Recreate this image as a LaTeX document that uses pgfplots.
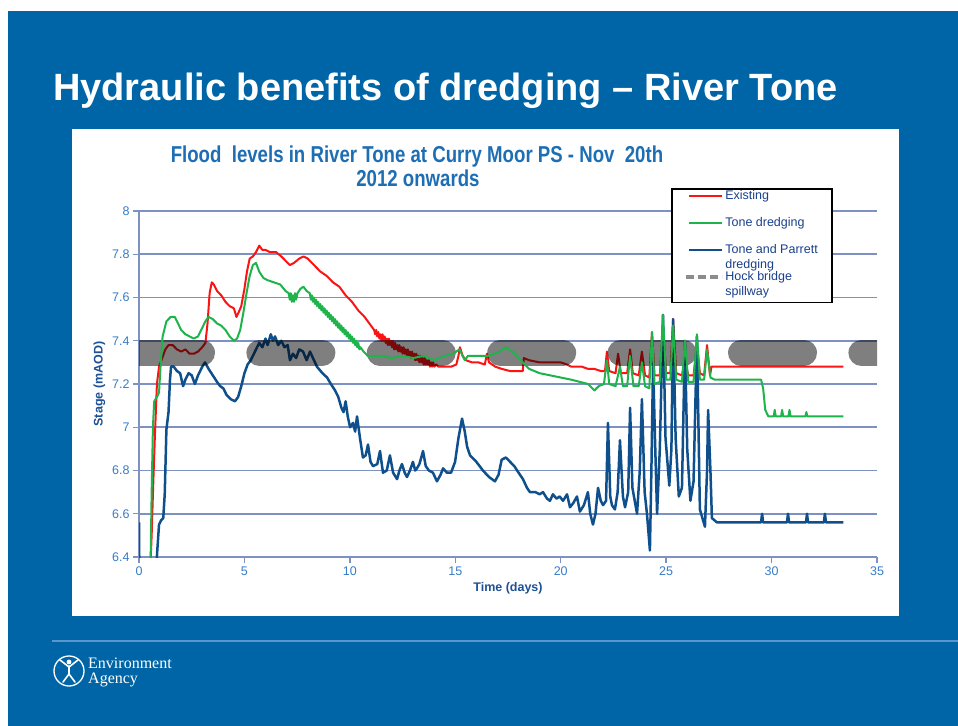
\documentclass[border=0pt]{standalone}
\usepackage{pgfplots}
\pgfplotsset{compat=1.18}
\usepackage{fontspec}
\setmainfont{Liberation Sans}
\newfontfamily\seriffont{Liberation Serif}
\usepackage{graphicx}
\definecolor{slideblue}{RGB}{0,101,166}
\definecolor{sepline}{RGB}{90,150,205}
\definecolor{titleblue}{RGB}{30,110,180}
\definecolor{tickblue}{RGB}{55,125,200}
\definecolor{labblue}{RGB}{30,80,150}
\definecolor{legblue}{RGB}{25,65,140}
\definecolor{gridc}{RGB}{125,145,195}
\definecolor{redc}{RGB}{250,20,20}
\definecolor{greenc}{RGB}{30,180,75}
\definecolor{bluec}{RGB}{15,80,140}
\begin{document}
\begin{tikzpicture}
\useasboundingbox (0bp,0bp) rectangle (958bp,-726bp);
\begin{scope}[x=1bp,y=-1bp]
\fill[white] (0,0) rectangle (958,726);
\fill[slideblue] (8,11) rectangle (958,726);
\fill[white] (72,129) rectangle (899,616);
\draw[sepline, line width=1.5bp] (52,641) -- (958,641);
\node[anchor=base west, inner sep=0pt, text=white, font=\fontsize{38bp}{45bp}\selectfont\bfseries] at (53,100) {Hydraulic benefits of dredging – River Tone};
\node[anchor=base, inner sep=0pt, text=titleblue, font=\fontsize{23bp}{27bp}\selectfont\bfseries] at (417,162) {\scalebox{0.81}[1]{Flood\ \ levels in River Tone at Curry Moor PS - Nov\ \ 20th}};
\node[anchor=base, inner sep=0pt, text=titleblue, font=\fontsize{23bp}{27bp}\selectfont\bfseries] at (418,186) {\scalebox{0.81}[1]{2012 onwards}};
% logo
\draw[white, line width=1.3bp] (69,671) circle[radius=15bp];
\fill[white] (69,662) circle[radius=2.4bp];
\draw[white, line width=1.6bp, line cap=round] (60,660) -- (69,667) -- (78,660);
\draw[white, line width=1.8bp, line cap=round] (69,666) -- (69,674);
\draw[white, line width=1.6bp, line cap=round] (63,682) -- (69,674) -- (75,682);
\node[anchor=base west, inner sep=0pt, text=white, font=\seriffont\fontsize{16bp}{17bp}\selectfont] at (88,668) {Environment};
\node[anchor=base west, inner sep=0pt, text=white, font=\seriffont\fontsize{16bp}{17bp}\selectfont] at (88,683) {Agency};
\end{scope}
\begin{axis}[
  at={(139bp,-557bp)}, anchor=south west,
  scale only axis, width=738bp, height=346bp,
  xmin=0, xmax=35, ymin=6.4, ymax=8,
  axis x line*=bottom, axis y line*=left,
  axis line style={gridc, line width=1.6bp, -},
  xtick={0,5,10,15,20,25,30,35},
  ytick={6.4,6.6,6.8,7,7.2,7.4,7.6,7.8,8},
  ymajorgrids, grid style={gridc, line width=1.6bp},
  tick align=outside, major tick length=6bp,
  tick style={gridc, line width=1.4bp},
  /pgf/number format/assume math mode=true,
  tick label style={font=\fontsize{12.5bp}{15bp}\selectfont, text=tickblue},
  xlabel={Time (days)}, ylabel={Stage (mAOD)},
  label style={font=\fontsize{12.5bp}{15bp}\selectfont\bfseries, text=labblue},
  legend style={at={(0.721,1.066)}, anchor=north west, draw=black, line width=1.5bp, fill=white,
    font=\fontsize{12.5bp}{15bp}\selectfont, text=legblue, inner xsep=12bp, inner ysep=1bp,
    row sep=14.5bp, nodes={inner xsep=2bp, inner ysep=1bp}},
  legend cell align=left,
  legend image code/.code={\draw[#1] (0bp,0bp) -- (33bp,0bp);},
]
\addlegendimage{redc, line width=2bp}
\addlegendentry{\raisebox{0pt}[9bp][3bp]{Existing}}
\addlegendimage{greenc, line width=2bp}
\addlegendentry{\raisebox{0pt}[9bp][3bp]{Tone dredging}}
\addlegendimage{bluec, line width=2bp}
\addlegendentry{\raisebox{0pt}[9bp][3bp]{\begin{tabular}[t]{@{}l@{}}Tone and Parrett\\dredging\end{tabular}}}
\addlegendimage{legend image code/.code={\draw[black!45, line width=3.5bp, dash pattern=on 8bp off 4bp] (-3bp,0bp) -- (33bp,0bp);}}
\addlegendentry{\raisebox{0pt}[9bp][3bp]{\begin{tabular}[t]{@{}l@{}}Hock bridge\\spillway\end{tabular}}}
\addlegendimage{empty legend}
\addlegendentry{}

% Existing
\addplot[redc, line width=2bp, line join=round, forget plot] coordinates {
(0.55,6.38) (0.60,6.50) (0.68,6.75) (0.75,6.95) (0.85,7.20) (0.95,7.28) (1.10,7.32) (1.25,7.36)
(1.40,7.38) (1.60,7.38) (1.80,7.36) (2.00,7.35) (2.20,7.36) (2.40,7.34) (2.60,7.34) (2.80,7.35)
(3.00,7.37) (3.15,7.39) (3.25,7.48) (3.35,7.62) (3.45,7.67) (3.55,7.66) (3.70,7.63) (3.90,7.61)
(4.10,7.58) (4.30,7.56) (4.50,7.55) (4.62,7.51) (4.72,7.53) (4.85,7.56) (5.00,7.64) (5.12,7.72)
(5.25,7.78) (5.40,7.79) (5.55,7.81) (5.70,7.84) (5.85,7.82) (6.00,7.82) (6.20,7.81) (6.50,7.81)
(6.75,7.79) (6.95,7.77) (7.15,7.75) (7.35,7.76) (7.60,7.78) (7.80,7.79) (8.00,7.78) (8.30,7.75)
(8.60,7.72) (8.90,7.70) (9.20,7.67) (9.50,7.65) (9.80,7.61) (10.10,7.58) (10.40,7.54) (10.70,7.51)
(11.00,7.47) (11.15,7.45) (11.20,7.43) (11.25,7.45) (11.30,7.42) (11.35,7.44) (11.40,7.41) (11.45,7.43)
(11.50,7.40) (11.55,7.43) (11.60,7.40) (11.65,7.42) (11.70,7.39) (11.75,7.41) (11.80,7.38) (11.85,7.41)
(11.90,7.38) (11.95,7.40) (12.00,7.37) (12.05,7.40) (12.10,7.36) (12.15,7.39) (12.20,7.36) (12.25,7.38)
(12.30,7.35) (12.35,7.38) (12.40,7.35) (12.45,7.37) (12.50,7.34) (12.55,7.37) (12.60,7.34) (12.65,7.36)
(12.70,7.33) (12.75,7.36) (12.80,7.33) (12.85,7.35) (12.90,7.32) (12.95,7.35) (13.00,7.32) (13.05,7.34)
(13.10,7.31) (13.15,7.34) (13.20,7.31) (13.25,7.33) (13.30,7.30) (13.35,7.33) (13.40,7.30) (13.45,7.32)
(13.50,7.29) (13.55,7.32) (13.60,7.29) (13.65,7.31) (13.70,7.29) (13.75,7.31) (13.80,7.28) (13.85,7.30)
(13.90,7.28) (13.95,7.30) (14.00,7.28) (14.10,7.29) (14.20,7.28)
(14.35,7.28) (14.50,7.28) (14.80,7.28) (15.05,7.29) (15.15,7.33) (15.22,7.37) (15.35,7.33) (15.50,7.31)
(15.80,7.30) (16.10,7.30) (16.40,7.29) (16.50,7.34) (16.60,7.30) (16.90,7.28) (17.20,7.27) (17.60,7.26)
(18.00,7.26) (18.20,7.26) (18.25,7.32) (18.50,7.31) (19.00,7.30) (19.50,7.30) (20.00,7.30) (20.30,7.29)
(20.50,7.28) (21.00,7.28) (21.30,7.27) (21.60,7.27) (21.90,7.26) (22.10,7.26) (22.19,7.35) (22.30,7.26)
(22.60,7.25) (22.72,7.34) (22.85,7.25) (23.15,7.25) (23.29,7.36) (23.42,7.25) (23.70,7.24) (23.85,7.35)
(24.00,7.24) (24.20,7.23) (24.33,7.44) (24.45,7.24) (24.70,7.24) (24.85,7.47) (25.00,7.25) (25.20,7.25)
(25.33,7.50) (25.48,7.25) (25.75,7.24) (25.89,7.31) (26.05,7.24) (26.30,7.24) (26.46,7.38) (26.60,7.25)
(26.80,7.24) (26.94,7.38) (27.08,7.24) (27.15,7.28) (27.50,7.28) (30.00,7.28) (33.40,7.28)
};
% Tone and Parrett dredging
\addplot[bluec, line width=2.5bp, line join=round, forget plot] coordinates {
(0.00,6.56) (0.02,6.30) (0.80,6.30) (0.86,6.42) (0.95,6.55) (1.05,6.57) (1.15,6.58) (1.22,6.69)
(1.30,6.99) (1.40,7.07) (1.47,7.22) (1.52,7.28) (1.65,7.28) (1.80,7.26) (1.95,7.25) (2.09,7.19)
(2.20,7.22) (2.35,7.25) (2.50,7.24) (2.65,7.20) (2.80,7.24) (3.00,7.28) (3.13,7.30) (3.30,7.27)
(3.50,7.24) (3.70,7.21) (3.85,7.19) (4.00,7.18) (4.15,7.15) (4.35,7.13) (4.55,7.12) (4.70,7.14)
(4.85,7.19) (5.00,7.25) (5.15,7.29) (5.30,7.31) (5.50,7.35) (5.70,7.39) (5.85,7.37) (6.00,7.41)
(6.10,7.38) (6.25,7.43) (6.35,7.40) (6.45,7.42) (6.60,7.38) (6.75,7.40) (6.90,7.37) (7.05,7.38)
(7.16,7.31) (7.30,7.34) (7.45,7.32) (7.60,7.36) (7.78,7.35) (7.95,7.31) (8.11,7.35) (8.25,7.32)
(8.44,7.28) (8.70,7.25) (8.92,7.23) (9.10,7.20) (9.30,7.17) (9.45,7.14) (9.60,7.09) (9.70,7.07)
(9.80,7.12) (9.90,7.05) (10.01,7.00) (10.15,7.02) (10.25,6.98) (10.34,7.05) (10.48,6.95) (10.62,6.86)
(10.75,6.87) (10.86,6.92) (10.98,6.84) (11.10,6.82) (11.30,6.83) (11.43,6.89) (11.57,6.79) (11.75,6.80)
(11.90,6.87) (12.05,6.79) (12.24,6.76) (12.35,6.80) (12.47,6.83) (12.60,6.79) (12.71,6.77) (12.85,6.80)
(12.99,6.84) (13.10,6.80) (13.18,6.81) (13.30,6.83) (13.47,6.89) (13.60,6.82) (13.75,6.80) (13.94,6.79)
(14.13,6.75) (14.30,6.78) (14.42,6.81) (14.60,6.79) (14.80,6.79) (14.99,6.84) (15.15,6.95) (15.32,7.04)
(15.45,6.98) (15.56,6.91) (15.70,6.87) (16.00,6.84) (16.31,6.80) (16.60,6.77) (16.88,6.75) (17.05,6.78)
(17.20,6.85) (17.40,6.86) (17.60,6.84) (17.80,6.82) (18.00,6.79) (18.21,6.76) (18.40,6.72) (18.54,6.70)
(18.80,6.70) (19.00,6.69) (19.16,6.70) (19.35,6.67) (19.49,6.66) (19.63,6.69) (19.80,6.67) (19.95,6.68)
(20.11,6.66) (20.30,6.69) (20.44,6.63) (20.60,6.65) (20.77,6.68) (20.91,6.61) (21.10,6.64) (21.29,6.70)
(21.40,6.60) (21.53,6.55) (21.65,6.60) (21.77,6.72) (21.90,6.66) (22.01,6.64) (22.15,6.66) (22.24,7.02)
(22.35,6.68) (22.43,6.64) (22.57,6.62) (22.70,6.70) (22.81,6.94) (22.95,6.68) (23.05,6.63) (23.20,6.70)
(23.29,7.09) (23.40,6.72) (23.62,6.60) (23.75,6.80) (23.85,7.13) (23.98,6.70) (24.09,6.60) (24.23,6.43)
(24.30,6.80) (24.38,7.30) (24.47,6.95) (24.57,6.60) (24.70,6.90) (24.85,7.52) (24.97,6.95) (25.15,6.73)
(25.25,6.90) (25.33,7.50) (25.45,6.95) (25.60,6.68) (25.75,6.72) (25.89,7.40) (26.00,6.90) (26.15,6.66)
(26.30,6.75) (26.46,7.42) (26.60,6.62) (26.84,6.54) (26.94,6.80) (26.99,7.08) (27.10,6.80) (27.17,6.58)
(27.41,6.56) (28.00,6.56) (29.50,6.56) (29.55,6.60) (29.60,6.56) (30.73,6.56) (30.78,6.60) (30.83,6.56)
(31.63,6.56) (31.68,6.60) (31.73,6.56) (32.48,6.56) (32.53,6.60) (32.58,6.56) (33.40,6.56)
};
% Hock bridge spillway
\addplot[black, opacity=0.5, line width=26bp, line cap=round, dash pattern=on 63bp off 57.4bp, forget plot] coordinates {(0,7.345) (35,7.345)};
% Tone dredging
\addplot[greenc, line width=2bp, line join=round, forget plot] coordinates {
(0.55,6.38) (0.60,6.70) (0.66,7.00) (0.72,7.12) (0.85,7.14) (0.95,7.16) (1.02,7.28) (1.12,7.42)
(1.30,7.49) (1.50,7.51) (1.70,7.51) (1.85,7.48) (2.00,7.45) (2.20,7.43) (2.40,7.42) (2.60,7.41)
(2.80,7.42) (3.00,7.46) (3.15,7.49) (3.30,7.51) (3.50,7.50) (3.70,7.48) (3.90,7.47) (4.10,7.45)
(4.30,7.42) (4.50,7.40) (4.65,7.41) (4.80,7.45) (4.95,7.53) (5.10,7.62) (5.25,7.70) (5.40,7.75)
(5.55,7.76) (5.70,7.72) (5.90,7.69) (6.10,7.68) (6.40,7.67) (6.70,7.66) (6.95,7.63) (7.10,7.62)
(7.15,7.59) (7.20,7.62) (7.25,7.58) (7.30,7.61) (7.35,7.58) (7.40,7.62) (7.45,7.59) (7.52,7.62)
(7.65,7.64) (7.80,7.65) (7.95,7.63) (8.10,7.62)
(8.15,7.59) (8.20,7.61) (8.25,7.58) (8.30,7.60) (8.35,7.57) (8.40,7.59) (8.45,7.56) (8.50,7.58)
(8.55,7.55) (8.60,7.57) (8.65,7.54) (8.70,7.56) (8.75,7.53) (8.80,7.55) (8.85,7.52) (8.90,7.54)
(8.95,7.51) (9.00,7.53) (9.05,7.50) (9.10,7.52) (9.15,7.49) (9.20,7.51) (9.25,7.48) (9.30,7.50)
(9.35,7.47) (9.40,7.49) (9.45,7.46) (9.50,7.48) (9.55,7.45) (9.60,7.47) (9.65,7.44) (9.70,7.46)
(9.75,7.43) (9.80,7.45) (9.85,7.42) (9.90,7.44) (9.95,7.41) (10.00,7.43) (10.05,7.40) (10.10,7.42)
(10.15,7.39) (10.20,7.41) (10.25,7.38) (10.30,7.40) (10.35,7.37) (10.40,7.39) (10.45,7.36) (10.50,7.37)
(10.65,7.35) (10.85,7.33) (11.00,7.33) (11.50,7.33) (12.00,7.32) (12.50,7.33) (13.00,7.32)
(13.50,7.33) (14.00,7.31) (14.50,7.33) (14.90,7.34) (15.20,7.36) (15.45,7.31) (15.60,7.33) (16.00,7.33)
(16.60,7.33) (17.10,7.35) (17.40,7.37) (17.70,7.35) (18.00,7.32) (18.20,7.30) (18.50,7.27) (19.00,7.25)
(19.50,7.24) (20.00,7.23) (20.50,7.22) (20.90,7.21) (21.30,7.20) (21.60,7.17) (21.80,7.19) (22.05,7.20)
(22.19,7.31) (22.30,7.20) (22.60,7.19) (22.81,7.28) (22.95,7.19) (23.15,7.19) (23.29,7.33) (23.45,7.19)
(23.70,7.19) (23.85,7.30) (24.00,7.19) (24.20,7.18) (24.33,7.44) (24.45,7.20) (24.70,7.21) (24.85,7.52)
(25.00,7.22) (25.20,7.22) (25.33,7.47) (25.48,7.22) (25.75,7.21) (25.89,7.40) (26.05,7.21) (26.30,7.21)
(26.46,7.43) (26.60,7.22) (26.80,7.22) (26.94,7.36) (27.10,7.23) (27.30,7.22) (29.50,7.22) (29.60,7.18)
(29.70,7.08) (29.85,7.05) (30.10,7.05) (30.15,7.08) (30.20,7.05) (30.45,7.05) (30.50,7.08) (30.55,7.05)
(30.80,7.05) (30.85,7.08) (30.90,7.05) (31.60,7.05) (31.65,7.07) (31.70,7.05) (32.20,7.05) (33.40,7.05)
};
\end{axis}
\end{tikzpicture}
\end{document}
